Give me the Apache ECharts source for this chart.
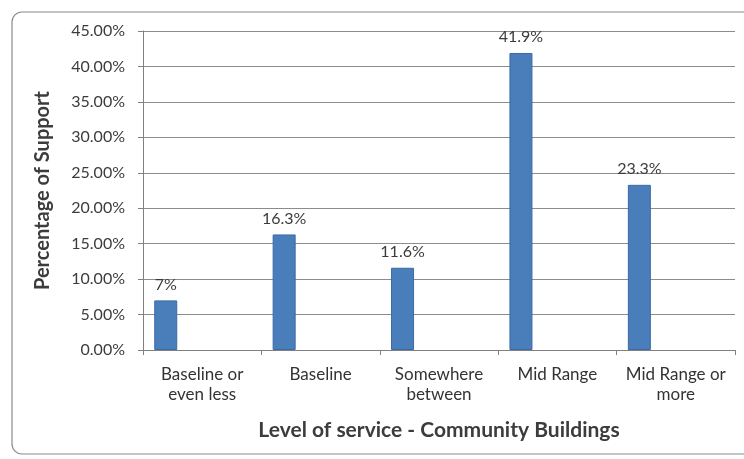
<!DOCTYPE html>
<html>
<head>
<meta charset="utf-8">
<script src="https://cdn.jsdelivr.net/npm/echarts@6/dist/echarts.min.js"></script>
<style>
  html, body { margin: 0; padding: 0; background: #fff; }
  #chart { width: 744px; height: 459px; }
</style>
</head>
<body>
<div id="chart"></div>
<script>
const categories = ['Baseline or\neven less', 'Baseline', 'Somewhere\nbetween', 'Mid Range', 'Mid Range or\nmore'];
const support = [7, 16.3, 11.6, 41.9, 23.3];
const supportLabels = ['7%', '16.3%', '11.6%', '41.9%', '23.3%'];
// Excel left an empty second series, which pushes the bars to the left of each slot
const emptySeries = [null, null, null, null, null];

const chart = echarts.init(document.getElementById('chart'));
const txt = '#3c3c3c';
const font = 'Lato, "Open Sans", sans-serif';

const option = {
  animation: false,
  textStyle: { fontFamily: font },
  graphic: [{
    type: 'rect',
    shape: { x: 12, y: 12, width: 760, height: 442, r: 10 },
    style: { fill: 'none', stroke: '#8a8a8a', lineWidth: 1.2 },
    z: -1
  }],
  grid: { left: 143, right: 9, top: 31, bottom: 109 },
  xAxis: {
    type: 'category',
    data: categories,
    name: 'Level of service - Community Buildings',
    nameLocation: 'middle',
    nameGap: 70,
    nameTextStyle: { color: txt, fontSize: 21, fontWeight: 'bold', fontFamily: font },
    axisLine: { lineStyle: { color: '#808080', width: 1 } },
    axisTick: { show: true, length: 5, lineStyle: { color: '#808080' } },
    axisLabel: {
      color: '#333', fontSize: 17, margin: 15, lineHeight: 20, fontFamily: font,
      interval: 0, hideOverlap: false
    }
  },
  yAxis: {
    type: 'value',
    min: 0,
    max: 45,
    interval: 5,
    name: 'Percentage of Support',
    nameLocation: 'middle',
    nameGap: 90,
    nameRotate: 90,
    nameTextStyle: { color: txt, fontSize: 20, fontWeight: 'bold', fontFamily: font },
    axisLine: { show: true, lineStyle: { color: '#808080', width: 1 } },
    axisTick: { show: true, length: 5, lineStyle: { color: '#808080' } },
    axisLabel: {
      color: txt, fontSize: 16, margin: 18, fontFamily: font,
      formatter: v => v.toFixed(2) + '%'
    },
    splitLine: { lineStyle: { color: '#8c8c8c', width: 1 } }
  },
  series: [
    {
      name: 'Support',
      type: 'bar',
      data: support,
      barWidth: 23,
      barGap: '217%',
      itemStyle: { color: '#4a7ebb', borderColor: '#3a6aa6', borderWidth: 1 },
      label: {
        show: true,
        position: 'top',
        distance: 8,
        color: txt,
        fontSize: 16,
        fontFamily: font,
        formatter: p => supportLabels[p.dataIndex]
      }
    },
    {
      name: 'Empty',
      type: 'bar',
      data: emptySeries,
      barWidth: 23
    }
  ]
};

chart.setOption(option);
</script>
</body>
</html>
